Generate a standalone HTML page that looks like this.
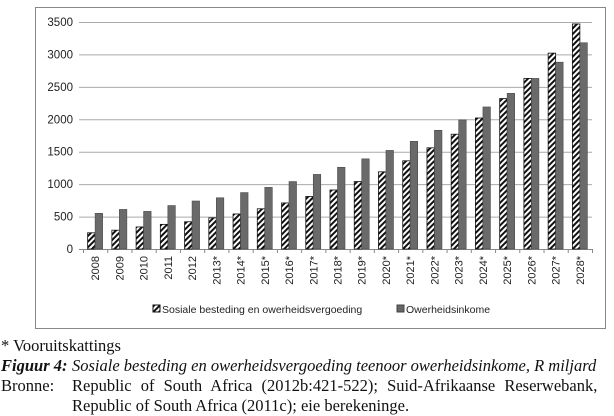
<!DOCTYPE html>
<html><head><meta charset="utf-8"><style>
body{margin:0;background:#fff;width:614px;height:416px;overflow:hidden}
svg{display:block}
</style></head><body>
<svg width="614" height="416" xmlns="http://www.w3.org/2000/svg">
<defs>
<pattern id="hatch" patternUnits="userSpaceOnUse" width="4" height="4" patternTransform="rotate(45)">
<rect width="4" height="4" fill="#fff"/><rect width="2" height="4" fill="#111"/>
</pattern>
</defs>
<rect x="35.5" y="7.5" width="570" height="321" fill="#fff" stroke="#888"/>
<g id="grid"></g>
<g id="yt" font-family="Liberation Sans, sans-serif" font-size="11.5" fill="#222" text-anchor="end"></g>
<g id="bars"></g>
<g id="xt" font-family="Liberation Sans, sans-serif" font-size="11" fill="#222"></g>
<g font-family="Liberation Sans, sans-serif" font-size="10.5" fill="#222">
<g><rect x="153" y="305" width="7" height="7" fill="url(#hatch)" stroke="#111"/><text x="162" y="313">Sosiale besteding en owerheidsvergoeding</text></g>
<g><rect x="397" y="305" width="7" height="7" fill="#666" stroke="#444"/><text x="406" y="313">Owerheidsinkome</text></g>
</g>
<g font-family="Liberation Serif, serif" font-size="16.5" fill="#111">
<text x="1" y="351">* Vooruitskattings</text>
<text x="1" y="371" font-style="italic"><tspan font-weight="bold">Figuur 4:</tspan><tspan x="72">Sosiale besteding en owerheidsvergoeding teenoor owerheidsinkome, R miljard</tspan></text>
<text x="1" y="391">Bronne:<tspan x="72" word-spacing="5">Republic of South Africa (2012b:421-522); Suid-Afrikaanse Reserwebank,</tspan></text>
<text x="72" y="411">Republic of South Africa (2011c); eie berekeninge.</text>
</g>
</svg>
<script>
const categories=["2008","2009","2010","2011","2012","2013*","2014*","2015*","2016*","2017*","2018*","2019*","2020*","2021*","2022*","2023*","2024*","2025*","2026*","2027*","2028*"];
const socialValues=[250,290,340,380,420,480,540,620,710,810,910,1040,1190,1360,1560,1770,2020,2320,2630,3020,3470];
const incomeValues=[550,610,580,670,740,790,870,950,1040,1150,1260,1390,1520,1660,1830,1990,2190,2400,2630,2880,3180];
const yTicks=[0,500,1000,1500,2000,2500,3000,3500];
const NS="http://www.w3.org/2000/svg";
const x0=83,x1=592,y0=249,y1=22,yMax=3500;
const step=(x1-x0)/categories.length;
const y=v=>y0-(v/yMax)*(y0-y1);
const xc=i=>x0+step*(i+0.5);
function mk(t,a,p){const e=document.createElementNS(NS,t);for(const k in a)e.setAttribute(k,a[k]);p.appendChild(e);return e;}
const grid=document.getElementById('grid'),yt=document.getElementById('yt'),bars=document.getElementById('bars'),xt=document.getElementById('xt');
yTicks.forEach(v=>{
 const l=mk('line',{x1:x0-4,x2:x1,y1:y(v)+0.5,y2:y(v)+0.5,stroke:v===0?'#888':'#aaa'},grid);
 
 
 const t=mk('text',{x:x0-10,y:y(v)+4},yt);t.textContent=v;
 
 
});
categories.forEach((c,i)=>{
 const cx=xc(i),w=7.5;
 const tk=mk('line',{x1:x0+step*i+0.5,x2:x0+step*i+0.5,y1:y0,y2:y0+4,stroke:'#888'},grid);
 
 
 const a=mk('rect',{x:cx-w,y:y(socialValues[i]),width:w,height:y0-y(socialValues[i]),fill:'url(#hatch)',stroke:'#111','stroke-width':0.8},bars);
 
 
 const b=mk('rect',{x:cx,y:y(incomeValues[i]),width:w,height:y0-y(incomeValues[i]),fill:'#6a6a6a',stroke:'#4a4a4a','stroke-width':0.6},bars);
 
 
 const t=mk('text',{x:0,y:0,transform:`translate(${cx+4},${256}) rotate(-90)`,'text-anchor':'end'},xt);
 t.textContent=c;
 
 
});
mk('line',{x1:x1+0.5,x2:x1+0.5,y1:y0,y2:y0+4,stroke:'#888'},grid);
</script>
</body></html>
